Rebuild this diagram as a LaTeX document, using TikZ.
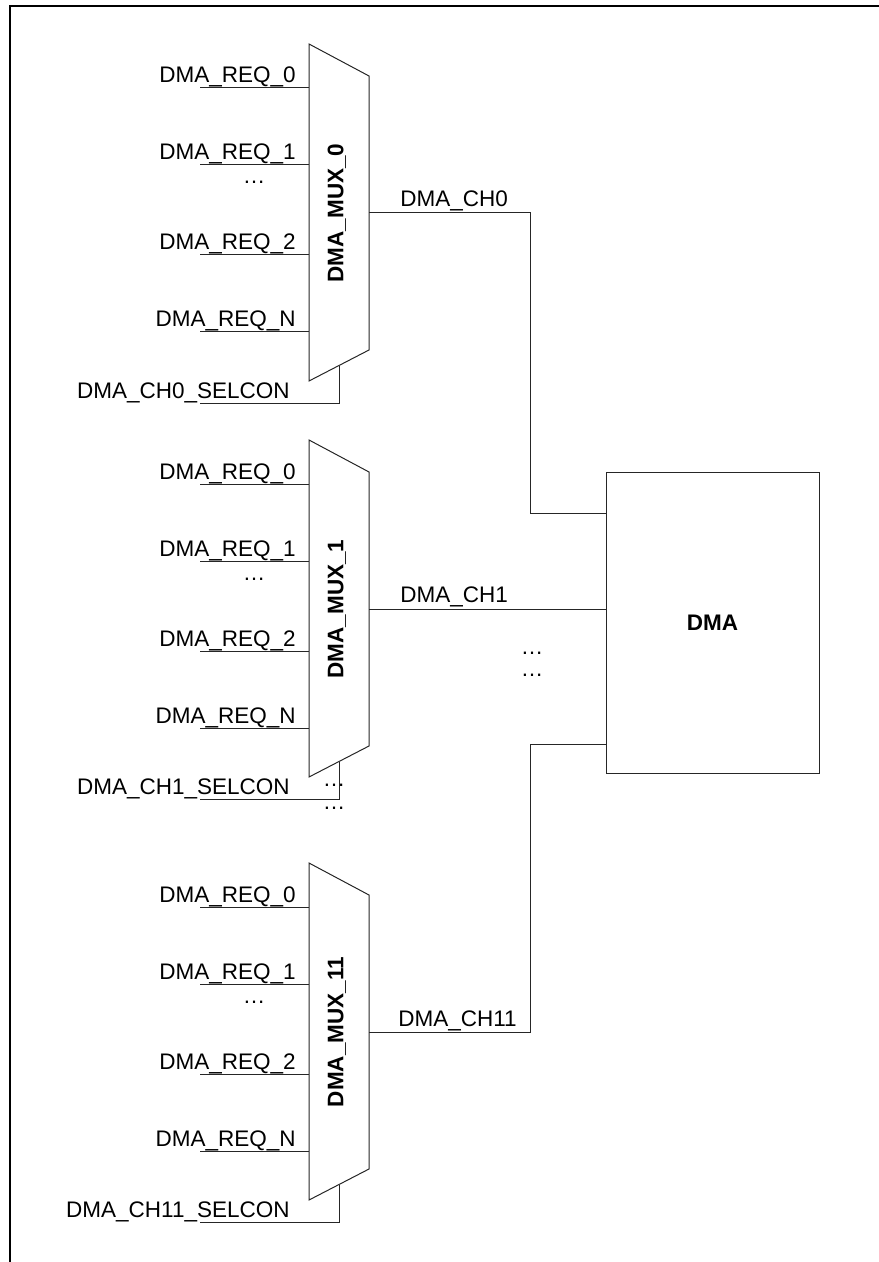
\documentclass[tikz,border=0pt]{standalone}
\usepackage{fontspec}
\setmainfont{Liberation Sans}
\begin{document}
\begin{tikzpicture}[x=0.5pt,y=-0.5pt,
  wire/.style={line width=0.5pt,draw=black!85},
  lbl/.style={inner sep=0pt,font=\fontsize{11.25pt}{13pt}\selectfont},
  boldlbl/.style={inner sep=0pt,font=\fontsize{11.25pt}{13pt}\selectfont\bfseries},
  dots/.style={inner sep=0pt,font=\fontsize{11.25pt}{13pt}\selectfont}]
\useasboundingbox (0,0) rectangle (878,1262);
\draw[line width=1pt] (10,1270) -- (10,6) -- (890,6);

\newcommand\mymuxblock[4]{%
\begin{scope}[shift={(0,#1)}]
  \draw[wire] (309,0) -- (369,32) -- (369,306) -- (309,337) -- cycle;
  \node[boldlbl,rotate=90] (#2lab) at (337,169) {#3};
  \coordinate (#2out) at (369,169);
  \foreach \yy/\tt/\nn in {44/DMA\_REQ\_0/a,121/DMA\_REQ\_1/b,211/DMA\_REQ\_2/c,288/DMA\_REQ\_N/d}{
    \coordinate (#2in\nn) at (309,\yy);
    \coordinate (#2st\nn) at (200,\yy);
    \draw[wire] (#2st\nn) -- (#2in\nn);
    \node[lbl,anchor=base east] (#2t\nn) at (296,\yy-5) {\tt};
  }
  \node[dots,anchor=base] (#2dots) at (254,140) {…};
  \coordinate (#2sa) at (200,359);
  \coordinate (#2sb) at (339,321.5);
  \draw[wire] (#2sa) -| (#2sb);
  \node[lbl,anchor=base east] (#2sl) at (290,354) {#4};
\end{scope}}

\mymuxblock{44}{ma}{DMA\_MUX\_0}{DMA\_CH0\_SELCON}
\mymuxblock{440}{mb}{DMA\_MUX\_1}{DMA\_CH1\_SELCON}
\mymuxblock{863}{mc}{DMA\_MUX\_11}{DMA\_CH11\_SELCON}

\node[draw=black!85,line width=0.5pt,minimum width=106.5pt,minimum height=150.5pt,inner sep=0pt,
  font=\fontsize{11.25pt}{13pt}\selectfont\bfseries] (dma) at (712.5,622.5) {DMA};

\coordinate (ca) at (530,513);
\coordinate (cc) at (530,744);
\draw[wire] (maout) -| (ca) -- (ca -| dma.west);
\draw[wire] (mbout) -- (mbout -| dma.west);
\draw[wire] (mcout) -| (cc) -- (cc -| dma.west);

\node[lbl,anchor=base west] (l0) at (400,207) {DMA\_CH0};
\node[lbl,anchor=base west] (l1) at (400,602) {DMA\_CH1};
\node[lbl,anchor=base west] (l11) at (398,1026) {DMA\_CH11};

\node[dots,anchor=base] (d1) at (532,654) {…};
\node[dots,anchor=base] (d2) at (532,676) {…};
\node[dots,anchor=base] (d3) at (334,786) {…};
\node[dots,anchor=base] (d4) at (334,809) {…};
\end{tikzpicture}
\end{document}
